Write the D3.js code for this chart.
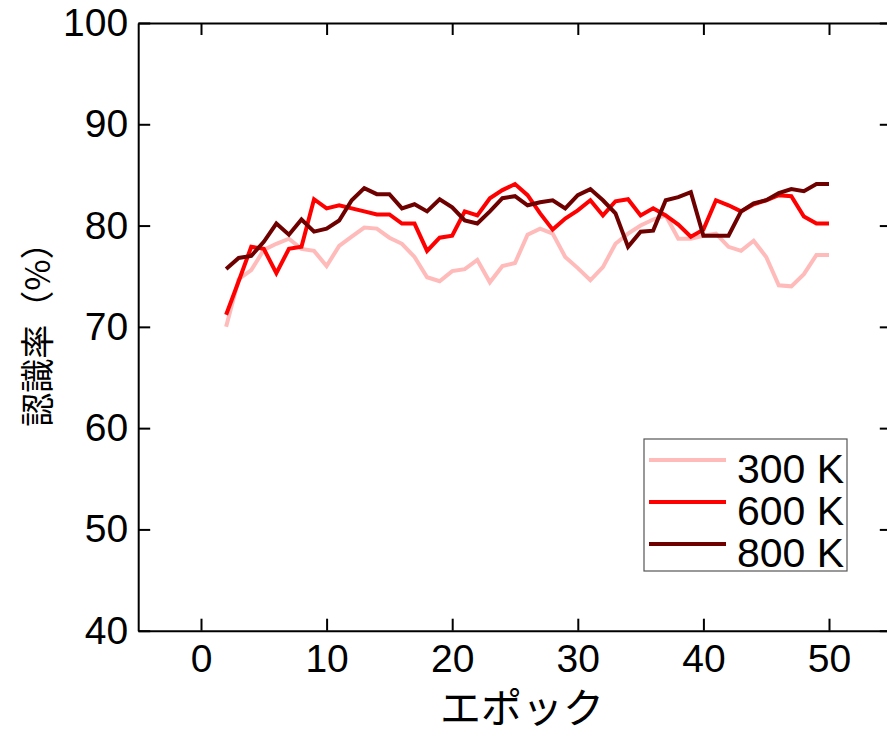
<!DOCTYPE html>
<html><head><meta charset="utf-8">
<script src="https://cdn.jsdelivr.net/npm/d3@7"></script>
<style>body{margin:0;background:#fff}</style>
</head><body>
<svg id="c" width="887" height="736"></svg>
<script>
const epochs = d3.range(2, 51);
const s300 = [70.0,74.7,75.6,77.6,78.2,78.7,77.7,77.5,76.0,78.0,78.9,79.8,79.7,78.8,78.2,76.9,74.9,74.5,75.5,75.7,76.6,74.4,76.0,76.3,79.1,79.7,79.2,76.9,75.8,74.6,75.9,78.2,79.2,80.0,80.6,81.0,78.7,78.7,79.0,79.2,77.9,77.5,78.5,76.9,74.1,74.0,75.2,77.1,77.1];
const s600 = [71.2,74.5,77.9,77.7,75.3,77.7,77.9,82.6,81.7,82.0,81.7,81.4,81.1,81.1,80.2,80.2,77.5,78.8,79.0,81.4,81.0,82.7,83.5,84.1,83.0,81.2,79.6,80.7,81.5,82.5,81.0,82.4,82.6,81.0,81.7,81.0,80.1,78.9,79.6,82.5,82.0,81.4,82.1,82.5,83.0,82.9,80.9,80.2,80.2];
const s800 = [75.7,76.8,77.0,78.4,80.2,79.1,80.6,79.4,79.7,80.5,82.5,83.7,83.1,83.1,81.7,82.1,81.4,82.6,81.8,80.5,80.2,81.4,82.7,82.9,82.0,82.3,82.5,81.7,83.0,83.6,82.5,81.2,77.9,79.4,79.5,82.5,82.8,83.3,79.0,79.0,79.0,81.4,82.2,82.5,83.2,83.6,83.4,84.1,84.1];
const seriesNames = ["300 K","600 K","800 K"];
const seriesColors = ["#ffbaba","#ff0000","#6e0000"];
const xTicks = [0,10,20,30,40,50];
const yTicks = [40,50,60,70,80,90,100];

const svg = d3.select("#c");
const L = 138.2, R = 891.8, T = 23, B = 630.7;
const x = d3.scaleLinear().domain([-5,55]).range([L,R]);
const y = d3.scaleLinear().domain([40,100]).range([B,T]);
const font = "'Liberation Sans', Arial, sans-serif";

const series = [s300, s600, s800];
const line = d3.line().x((d,i)=>x(epochs[i])).y(d=>y(d));
series.forEach((s,k)=>{
  svg.append("path").datum(s).attr("d", line)
    .attr("fill","none").attr("stroke",seriesColors[k]).attr("stroke-width",4)
    .attr("stroke-linejoin","miter");
});

function styleAxis(g){
  g.select(".domain").attr("stroke","#000").attr("stroke-width",2);
  g.selectAll(".tick line").attr("stroke","#000").attr("stroke-width",2);
  g.selectAll("text").attr("font-family",font).attr("font-size",39).attr("fill","#000");
}
svg.append("g").attr("transform",`translate(0,${B})`)
  .call(d3.axisBottom(x).tickValues(xTicks).tickSize(-12).tickPadding(14).tickSizeOuter(0))
  .call(styleAxis);
svg.append("g").attr("transform",`translate(0,${T})`)
  .call(d3.axisTop(x).tickValues(xTicks).tickSize(-12).tickFormat("").tickSizeOuter(0))
  .call(styleAxis);
svg.append("g").attr("transform",`translate(${L},0)`)
  .call(d3.axisLeft(y).tickValues(yTicks).tickSize(-12).tickPadding(10).tickSizeOuter(0))
  .call(styleAxis);
svg.append("g").attr("transform",`translate(${R},0)`)
  .call(d3.axisRight(y).tickValues(yTicks).tickSize(-12).tickFormat("").tickSizeOuter(0))
  .call(styleAxis);

svg.append("text").attr("x",522).attr("y",723)
  .attr("text-anchor","middle").attr("font-family","'Noto Sans CJK JP', sans-serif")
  .attr("font-size",41).text("エポック");
svg.append("text").attr("transform","translate(50,326) rotate(-90)")
  .attr("text-anchor","middle").attr("font-family","'Noto Sans CJK JP', sans-serif")
  .attr("font-size",34).text("認識率（%）");

// legend
const lg = svg.append("g");
lg.append("rect").attr("x",644).attr("y",439).attr("width",203).attr("height",132)
  .attr("fill","#fff").attr("stroke","#555").attr("stroke-width",1.2);
seriesNames.forEach((n,k)=>{
  const yy = 460 + k*42;
  lg.append("line").attr("x1",649).attr("x2",726).attr("y1",yy).attr("y2",yy)
    .attr("stroke",seriesColors[k]).attr("stroke-width",4);
  lg.append("text").attr("x",737).attr("y",yy+23).attr("font-family",font)
    .attr("font-size",41).text(n);
});
</script>
</body></html>
